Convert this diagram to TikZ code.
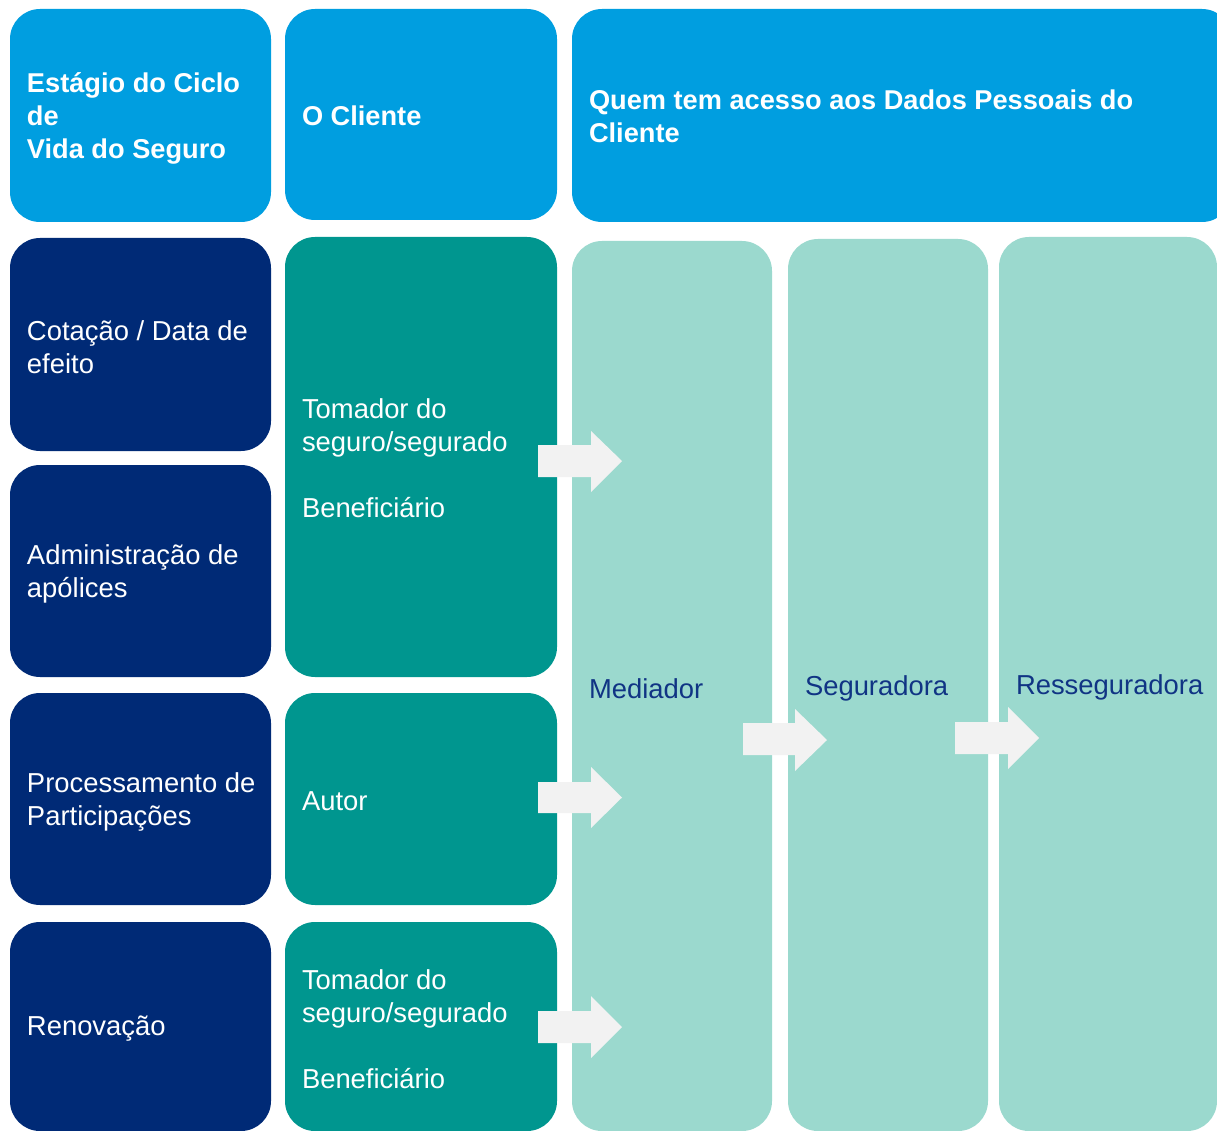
\documentclass[tikz,border=0pt]{standalone}
\usepackage{fontspec}
\setmainfont{Liberation Sans}
\definecolor{hdr}{RGB}{0,158,224}
\definecolor{navy}{RGB}{0,42,118}
\definecolor{teal}{RGB}{0,150,143}
\definecolor{light}{RGB}{155,217,206}
\definecolor{arrowc}{RGB}{242,242,242}
\definecolor{darktext}{RGB}{16,52,132}
\begin{document}
\begin{tikzpicture}[x=1pt,y=-1pt,
  box/.style={rounded corners=30pt, inner sep=0pt},
  hbox/.style={box, fill=hdr},
  nbox/.style={box, fill=navy},
  tbox/.style={box, fill=teal},
  lbox/.style={box, fill=light},
  txt/.style={anchor=west, inner sep=0pt, align=left, text=white,
    font=\fontsize{27.4}{33}\selectfont},
  htxt/.style={txt, font=\fontsize{27.2}{33}\selectfont\bfseries},
  ltxt/.style={txt, text=darktext},
  blockarrow/.style={fill=arrowc}
]
\useasboundingbox (0,0) rectangle (1217,1131);
% headers
\node[hbox, minimum width=261pt, minimum height=213pt] (h1) at (140.5,115.5) {};
\node[hbox, minimum width=272pt, minimum height=211pt] (h2) at (421,114.5) {};
\node[hbox, minimum width=660pt, minimum height=213pt] (h3) at (902,115.5) {};
\node[htxt] (h1t) at ([xshift=17pt,yshift=-3pt]h1.west) {Estágio do Ciclo\\de\\Vida do Seguro};
\node[htxt] (h2t) at ([xshift=17pt,yshift=-1pt]h2.west) {O Cliente};
\node[htxt] (h3t) at ([xshift=17pt,yshift=-1pt]h3.west) {Quem tem acesso aos Dados Pessoais do\\Cliente};
% stages
\node[nbox, minimum width=261pt, minimum height=213pt] (s1) at (140.5,344.5) {};
\node[nbox, minimum width=261pt, minimum height=212pt] (s2) at (140.5,571) {};
\node[nbox, minimum width=261pt, minimum height=212pt] (s3) at (140.5,799) {};
\node[nbox, minimum width=261pt, minimum height=209pt] (s4) at (140.5,1026.5) {};
\node[txt] (s1t) at ([xshift=17pt,yshift=-2.5pt]s1.west) {Cotação / Data de\\efeito};
\node[txt] (s2t) at ([xshift=17pt,yshift=-2.5pt]s2.west) {Administração de\\apólices};
\node[txt] (s3t) at ([xshift=17pt,yshift=-2.5pt]s3.west) {Processamento de\\Participações};
\node[txt] (s4t) at ([xshift=17pt,yshift=-2.5pt]s4.west) {Renovação};
% clients
\node[tbox, minimum width=272pt, minimum height=440pt] (c1) at (421,457) {};
\node[tbox, minimum width=272pt, minimum height=212pt] (c2) at (421,799) {};
\node[tbox, minimum width=272pt, minimum height=209pt] (c3) at (421,1026.5) {};
\node[txt] (c1t) at ([xshift=17pt,yshift=-1pt]c1.west) {Tomador do\\seguro/segurado\\[33pt]Beneficiário};
\node[txt] (c2t) at ([xshift=17pt,yshift=-2pt]c2.west) {Autor};
\node[txt] (c3t) at ([xshift=17pt,yshift=-3pt]c3.west) {Tomador do\\seguro/segurado\\[33pt]Beneficiário};
% access
\node[lbox, minimum width=200pt, minimum height=890pt] (m) at (672,686) {};
\node[lbox, minimum width=200pt, minimum height=892pt] (sg) at (888,685) {};
\node[lbox, minimum width=218pt, minimum height=894pt] (r) at (1108,684) {};
\node[ltxt] (mt) at ([xshift=17pt,yshift=-3pt]m.west) {Mediador};
\node[ltxt] (sgt) at ([xshift=17pt,yshift=-3.5pt]sg.west) {Seguradora};
\node[ltxt] (rt) at ([xshift=17pt,yshift=-3pt]r.west) {Resseguradora};
% block arrows
\fill[blockarrow] (538,445) -- (591,445) -- (591,431) -- (622,461) -- (591,492) -- (591,477) -- (538,477) -- cycle;
\fill[blockarrow] (538,782) -- (591,782) -- (591,767) -- (622,797.5) -- (591,828) -- (591,813) -- (538,813) -- cycle;
\fill[blockarrow] (538,1011) -- (591,1011) -- (591,996) -- (622,1027) -- (591,1058) -- (591,1043) -- (538,1043) -- cycle;
\fill[blockarrow] (743,723) -- (795,723) -- (795,709) -- (827,740) -- (795,771) -- (795,755) -- (743,755) -- cycle;
\fill[blockarrow] (955,722) -- (1008,722) -- (1008,707) -- (1039,738) -- (1008,769) -- (1008,754) -- (955,754) -- cycle;
\end{tikzpicture}
\end{document}
